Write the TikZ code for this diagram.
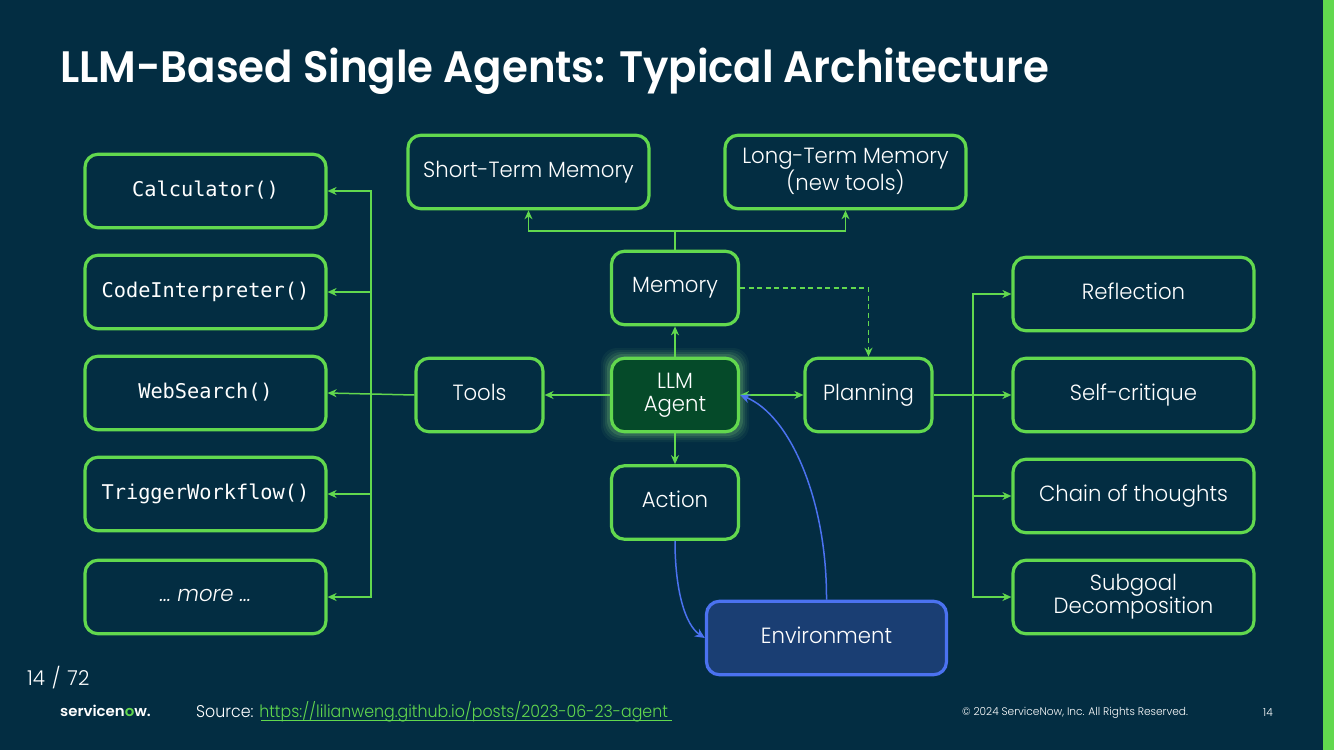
\documentclass[tikz,border=0pt]{standalone}
\usepackage{fontspec}
\setmainfont{Poppins}[Scale=1]
\newfontfamily\gothic{Poppins Light}[FakeStretch=0.965]
\newfontfamily\gothicn{Poppins Light}[FakeStretch=0.93]
\newfontfamily\gothicb{Poppins SemiBold}[FakeStretch=0.952]
\newfontfamily\logof{Poppins SemiBold}[FakeStretch=1.03]
\newfontfamily\cons{DejaVu Sans Mono}
\usetikzlibrary{arrows.meta}
\definecolor{bg}{HTML}{032D42}
\definecolor{grn}{HTML}{62D84E}
\definecolor{agentfill}{HTML}{054A29}
\definecolor{blu}{HTML}{4B72F0}
\definecolor{envfill}{HTML}{1A3E73}
\definecolor{linkc}{HTML}{62D84E}
\tikzset{
  x=1pt,y=-1pt,
  boxa/.style={draw=grn,line width=3.2pt,rounded corners=13pt,minimum height=73.5pt,align=center,text=white,inner sep=0pt,font=\gothic\fontsize{22}{23}\selectfont,execute at begin node={\leavevmode\vphantom{Ag}}},
  wide/.style={boxa,minimum width=241pt},
  mono/.style={wide,font=\cons\fontsize{20.3}{23}\selectfont},
  small/.style={boxa,minimum width=127pt},
  agentbox/.style={small,fill=agentfill},
  envbox/.style={boxa,draw=blu,fill=envfill,minimum width=240pt},
  conn/.style={draw=grn,line width=1.5pt},
  arr/.style={conn,-{Stealth[length=9pt,width=8pt]}},
  arrb/.style={conn,{Stealth[length=9pt,width=8pt]}-{Stealth[length=9pt,width=8pt]}},
  dash conn/.style={arr,dash pattern=on 5pt off 3.5pt},
  bluearr/.style={draw=blu,line width=1.5pt,-{Stealth[length=10pt,width=9pt]}},
  plain/.style={text=white,inner sep=0pt,font=\gothic\fontsize{13}{14}\selectfont},
}
\begin{document}
\begin{tikzpicture}
\useasboundingbox (0,0) rectangle (1334,750);
\fill[bg] (0,0) rectangle (1334,750);
\fill[grn] (1323,0) rectangle (1334,750);
\node[anchor=west,text=white,inner sep=0pt,font=\gothicb\fontsize{44}{48}\selectfont] (title) at (60,71) {LLM-Based Single Agents: Typical Architecture};

\node[mono] (calc) at (205.5,191) {Calculator()};
\node[mono] (code) at (205.5,292) {CodeInterpreter()};
\node[mono] (web) at (205.5,393) {WebSearch()};
\node[mono] (trig) at (205.5,494) {TriggerWorkflow()};
\node[wide] (more) at (205.5,597) {\itshape … more …};

\node[wide] (short) at (528.5,172) {Short-Term Memory};
\node[wide] (long) at (845.5,172) {Long-Term Memory\\(new tools)};
\node[small] (mem) at (675,288) {Memory};
\node[small] (tools) at (479.5,395) {Tools};
\node[small] (plan) at (868.5,395) {Planning};
\node[small] (act) at (675,502.5) {Action};

\foreach \w/\o in {18/.05,14/.07,10/.10,6/.16}
  \fill[grn!70!white,opacity=\o,rounded corners=16pt] (610-\w/2,357-\w/2) rectangle (740+\w/2,433+\w/2);
\node[agentbox] (agent) at (675,395) {LLM\\Agent};

\node[wide] (refl) at (1133.5,294) {Reflection};
\node[wide] (self) at (1133.5,395) {Self-critique};
\node[wide] (chain) at (1133.5,496) {Chain of thoughts};
\node[wide] (sub) at (1133.5,597) {Subgoal\\Decomposition};
\node[envbox] (env) at (826.5,638) {Environment};

\coordinate (busl) at (371,395);
\coordinate (busr) at (973,395);
\coordinate (busm) at (675,231);

\draw[arr] (tools.west) -- (web.east);
\draw[arr] (busl) |- (calc.east);
\draw[arr] (busl) |- (code.east);
\draw[arr] (busl) |- (trig.east);
\draw[arr] (busl) |- (more.east);

\draw[conn] (mem.north) -- (busm);
\draw[arr] (busm) -| (short.south);
\draw[arr] (busm) -| (long.south);

\draw[arr] (agent.west) -- (tools.east);
\draw[arr] (agent.north) -- (mem.south);
\draw[arr] (agent.south) -- (act.north);
\draw[arrb] (agent.east) -- (plan.west);
\draw[dash conn] (mem.east) -| (plan.north);

\draw[arr] (plan.east) -- (self.west);
\draw[arr] (busr) |- (refl.west);
\draw[arr] (busr) |- (chain.west);
\draw[arr] (busr) |- (sub.west);

\draw[bluearr] (act.south) .. controls (675,590) and (685,625) .. (env.west);
\draw[bluearr] (env.north) .. controls (827,500) and (790,415) .. (agent.east);

\node[plain,anchor=west,font=\gothic\fontsize{20.5}{22}\selectfont] (page) at (27,678) {14\,\,/\,\,72};
\node[plain,anchor=west,font=\logof\fontsize{14.5}{16}\selectfont] (logo) at (60,711) {servicen\textcolor{grn}{o}w.};
\node[plain,anchor=west,font=\gothicn\fontsize{17}{19}\selectfont] (src) at (196,712) {Source: \textcolor{linkc}{https://lilianweng.github.io/posts/2023-06-23-agent}};
\draw[linkc,line width=.8pt] (261,720.5) -- (672,720.5);
\node[plain,anchor=west,font=\gothic\fontsize{11}{12}\selectfont] (copy) at (962,713) {© 2024 ServiceNow, Inc. All Rights Reserved.};
\node[plain,anchor=center,font=\gothic\fontsize{11}{12}\selectfont] (num) at (1268,713) {14};
\end{tikzpicture}
\end{document}
